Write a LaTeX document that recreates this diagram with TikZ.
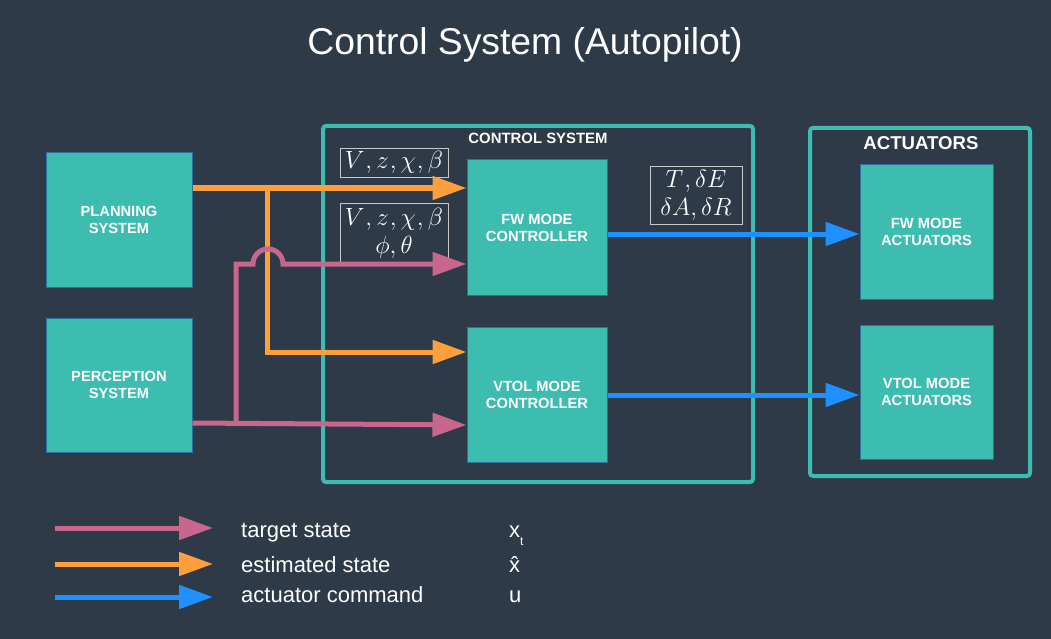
\documentclass[tikz,border=0pt]{standalone}
\usepackage{fontspec}
\setmainfont{Liberation Sans}
\usetikzlibrary{arrows.meta}
\definecolor{bg}{HTML}{2E3A48}
\definecolor{tealc}{HTML}{3CBDB0}
\definecolor{edgeb}{HTML}{2F6E9E}
\definecolor{orng}{HTML}{FF9E3D}
\definecolor{pnk}{HTML}{C8668C}
\definecolor{blu}{HTML}{1E90FF}
\definecolor{labg}{HTML}{C8C8C8}
\tikzset{
  block/.style={fill=tealc, draw=edgeb, line width=1pt, inner sep=0pt, text=white,
    align=center, font=\fontsize{14.7}{17}\selectfont\bfseries},
  group/.style={draw=tealc, line width=4pt, rounded corners=3pt, inner sep=0pt},
  conn/.style={line width=5pt, -{Triangle[length=34pt,width=23pt]}},
  tgt/.style={conn, draw=pnk},
  est/.style={conn, draw=orng},
  cmd/.style={conn, draw=blu},
  lab/.style={draw=labg, line width=0.8pt, inner sep=0pt, text=white, align=center,
    font=\fontsize{24}{28}\selectfont},
  legtext/.style={anchor=base west, text=white, font=\fontsize{22}{26}\selectfont, inner sep=0pt},
}
\begin{document}
\begin{tikzpicture}[x=1pt,y=-1pt]
\useasboundingbox[fill=bg] (0,0) rectangle (1051,639);
\node[text=white, font=\fontsize{37.3}{44}\selectfont] (title) at (525,45) {Control System (Autopilot)};
% groups
\node[group, minimum width=430pt, minimum height=356pt] (cs) at (538,304) {};
\node[text=white, font=\fontsize{14.9}{17}\selectfont\bfseries] (cslab) at (538,138) {CONTROL SYSTEM};
\node[group, minimum width=220pt, minimum height=348pt] (act) at (920,302) {};
\node[text=white, font=\fontsize{18.6}{22}\selectfont\bfseries] (actlab) at (921,143) {ACTUATORS};
% blocks
\node[block, minimum width=146pt, minimum height=134pt] (plan) at (119,220) {PLANNING\\SYSTEM};
\node[block, minimum width=146pt, minimum height=134pt] (perc) at (119,385) {PERCEPTION\\SYSTEM};
\node[block, minimum width=140pt, minimum height=135pt] (fwc) at (537,227.5) {FW MODE\\CONTROLLER};
\node[block, minimum width=140pt, minimum height=135pt] (vtc) at (537,394.5) {VTOL MODE\\CONTROLLER};
\node[block, minimum width=133pt, minimum height=134pt] (fwa) at (926.5,232) {FW MODE\\ACTUATORS};
\node[block, minimum width=133pt, minimum height=134pt] (vta) at (926.5,392) {VTOL MODE\\ACTUATORS};
% labels
\node[lab, minimum width=108pt, minimum height=29pt] (l1) at (394,162.5) {$V\kern1pt,z\kern1pt,\chi\kern1pt,\beta$};
\node[lab, minimum width=108pt, minimum height=60pt] (l2) at (394,233) {$V\kern1pt,z\kern1pt,\chi\kern1pt,\beta$\\$\phi,\theta$};
\node[lab, minimum width=92pt, minimum height=58pt] (l3) at (696,195) {$T\kern1pt,\delta E$\\$\delta A,\delta R$};
% connectors
\coordinate (jo) at (267,188);
\coordinate (jp) at (236,423);
\draw[est] (plan.east |- 0,188) -- (fwc.west |- 0,188);
\draw[est] (jo) -- (267,352) -- (vtc.west |- 0,352);
\draw[tgt] (perc.east |- 0,423) -- (vtc.west |- 0,425);
\draw[tgt] (jp) -- (236,264) -- (253,264) arc[start angle=180, end angle=0, radius=15pt] -- (fwc.west |- 0,264);
\draw[cmd] (fwc.east |- 0,234) -- (fwa.west |- 0,234);
\draw[cmd] (vtc.east |- 0,395) -- (vta.west |- 0,395);
% legend
\coordinate (g1) at (55,528);
\coordinate (g2) at (55,564);
\coordinate (g3) at (55,597);
\node[legtext] (t1) at (241,537) {target state};
\node[legtext] (t2) at (241,572) {estimated state};
\node[legtext] (t3) at (241,602) {actuator command};
\draw[tgt] (g1) -- (213,528);
\draw[est] (g2) -- (213,564);
\draw[cmd] (g3) -- (213,597);
\node[legtext] (s1) at (509,537) {x\raisebox{-8pt}{\fontsize{12}{12}\selectfont t}};
\node[legtext] (s2) at (509,572) {\^{x}};
\node[legtext] (s3) at (509,602) {u};
\end{tikzpicture}
\end{document}
